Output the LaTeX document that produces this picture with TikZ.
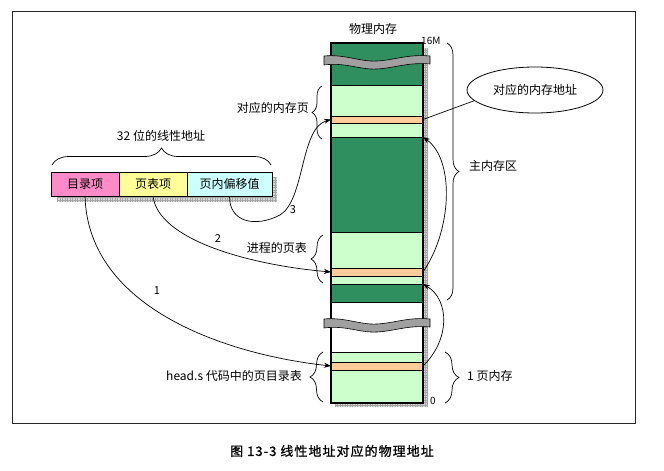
\documentclass[tikz,border=0pt]{standalone}
\usepackage{fontspec}
\setmainfont{Noto Sans CJK SC}
\usetikzlibrary{shapes.geometric,decorations.pathreplacing,arrows.meta}
\definecolor{dkg}{HTML}{2F8F5F}
\definecolor{lgn}{HTML}{CCFFCC}
\definecolor{org}{HTML}{FFCC99}
\definecolor{pnk}{HTML}{FF8AC8}
\definecolor{ylw}{HTML}{FFFF99}
\definecolor{cyn}{HTML}{CCFFFF}
\definecolor{wav}{HTML}{A0A0A0}
\definecolor{shd}{HTML}{D8D8D8}
\tikzset{
  seg/.style={draw=black, line width=0.6pt, inner sep=0pt, outer sep=0pt, minimum width=92pt, anchor=north west},
  kbox/.style={draw=black, line width=1pt, inner sep=0pt, outer sep=0pt, minimum height=24pt, anchor=north west, font=\fontsize{12}{14}\selectfont},
  lbl/.style={inner sep=0pt, font=\fontsize{12}{14}\selectfont},
  num/.style={inner sep=0pt, font=\fontsize{11}{13}\selectfont},
  arr/.style={line width=0.7pt, -{Stealth[length=7pt,width=5pt]}},
  brc/.style={decorate, line width=0.7pt},
  wavestyle/.style={fill=wav, draw=black, line width=0.6pt}
}
\newcommand{\mywave}[1]{%
  \begin{scope}[shift={(0,#1)}]
    \path[wavestyle] (324,0) .. controls (345,-2) and (360,6) .. (377,5)
      .. controls (395,4) and (408,-2) .. (430,0) -- (430,8)
      .. controls (408,6) and (395,12) .. (377,13)
      .. controls (360,14) and (345,6) .. (324,9) -- cycle;
  \end{scope}}
\begin{document}
\begin{tikzpicture}[x=1pt,y=-1pt]
\useasboundingbox (0,0) rectangle (664,471);
\fill[white] (0,0) rectangle (664,471);
% frame
\draw[line width=1pt, black!85] (12,11) rectangle (635,423);

% shadows of column
\fill[shd] (423,48) rectangle (428,407);
\fill[shd] (335,403) rectangle (428,407);
\draw[gray!70, line width=0.2pt, step=2.5pt] (423,48) grid (428,407);
\draw[gray!70, line width=0.2pt, step=2.5pt] (335,403) grid (428,407);

% column segments
\node[seg, fill=dkg, minimum height=42pt] (d1) at (331,43) {};
\node[seg, fill=lgn, minimum height=31pt] (l1) at (331,85) {};
\node[seg, fill=org, minimum height=7pt]  (o1) at (331,116) {};
\node[seg, fill=lgn, minimum height=14pt] (l2) at (331,123) {};
\node[seg, fill=dkg, minimum height=95pt] (d2) at (331,137) {};
\node[seg, fill=lgn, minimum height=36pt] (l3) at (331,232) {};
\node[seg, fill=org, minimum height=8pt]  (o2) at (331,268) {};
\node[seg, fill=lgn, minimum height=8pt]  (l4) at (331,276) {};
\node[seg, fill=dkg, minimum height=18pt] (d3) at (331,284) {};
\node[seg, fill=white, minimum height=50pt] (w1) at (331,302) {};
\node[seg, fill=lgn, minimum height=10pt] (l5) at (331,352) {};
\node[seg, fill=org, minimum height=8pt]  (o3) at (331,362) {};
\node[seg, fill=lgn, minimum height=33pt] (l6) at (331,370) {};
\draw[line width=1.3pt] (331,43) rectangle (423,403);

% breaks
\mywave{56}
\mywave{319}

% column labels
\node[lbl] (title) at (373,29) {物理内存};
\node[num, anchor=west, font=\fontsize{10}{12}\selectfont] (top) at (421,41) {16M};
\node[num, anchor=west, font=\fontsize{10}{12}\selectfont] (zero) at (430,401) {0};

% left braces + labels
\draw[brc, decoration={brace, amplitude=10pt}] (322,139) -- (322,86);
\node[lbl, anchor=east] (lpage) at (309,108) {对应的内存页};
\draw[brc, decoration={brace, amplitude=12pt}] (323,283) -- (323,235);
\node[lbl, anchor=east] (lpt) at (307,248) {进程的页表};
\draw[brc, decoration={brace, amplitude=13pt}] (323,402) -- (323,352);
\node[lbl, anchor=east] (ldir) at (302,376) {head.s 代码中的页目录表};

% right braces + labels
\draw[brc, decoration={brace, amplitude=12pt}] (447,43) -- (447,300);
\node[lbl, anchor=west] (lmain) at (469,166) {主内存区};
\draw[brc, decoration={brace, amplitude=14pt}] (445,352) -- (445,403);
\node[lbl, anchor=west] (lone) at (467,376) {1 页内存};

% ellipse
\node[draw, ellipse, line width=0.8pt, minimum width=136pt, minimum height=46pt, inner sep=0pt,
      font=\fontsize{12}{14}\selectfont] (addr) at (535,90) {对应的内存地址};
\draw[line width=0.7pt] (addr.190) -- (o1.east);

% linear address shadow
\fill[shd] (272,177) rectangle (277,202);
\fill[shd] (57,196) rectangle (277,202);
\draw[gray!70, line width=0.2pt, step=2.5pt] (272,177) grid (277,202);
\draw[gray!70, line width=0.2pt, step=2.5pt] (57,196) grid (277,202);

% linear address boxes
\node[kbox, fill=pnk, minimum width=68pt] (k1) at (51,172) {目录项};
\node[kbox, fill=ylw, minimum width=68pt] (k2) at (119,172) {页表项};
\node[kbox, fill=cyn, minimum width=85pt] (k3) at (187,172) {页内偏移值};

\draw[brc, decoration={brace, amplitude=17pt}] (52,165) -- (271,165);
\node[lbl] (lin) at (161,136) {32 位的线性地址};

% arrows
\draw[arr] (k1.south) .. controls (88,310) and (230,355) .. (o3.west);
\draw[arr] (k2.south) .. controls (158,240) and (250,265) .. (o2.west);
\draw[arr] (k3.south) .. controls (229,222) and (255,228) .. (280,215)
   .. controls (305,200) and (300,128) .. (o1.west);
\draw[arr] (o3.east) .. controls (450,340) and (450,300) .. (d3.north east);
\draw[arr] (o2.east) .. controls (452,230) and (455,160) .. (d2.north east);

\node[num] (n1) at (157,291) {1};
\node[num] (n2) at (218,239) {2};
\node[num] (n3) at (293,210) {3};

% caption
\node[inner sep=0pt, font=\fontsize{13}{15}\selectfont\addfontfeature{LetterSpace=8,FakeBold=1}] (cap) at (332,451) {图 13-3 线性地址对应的物理地址};
\end{tikzpicture}
\end{document}
